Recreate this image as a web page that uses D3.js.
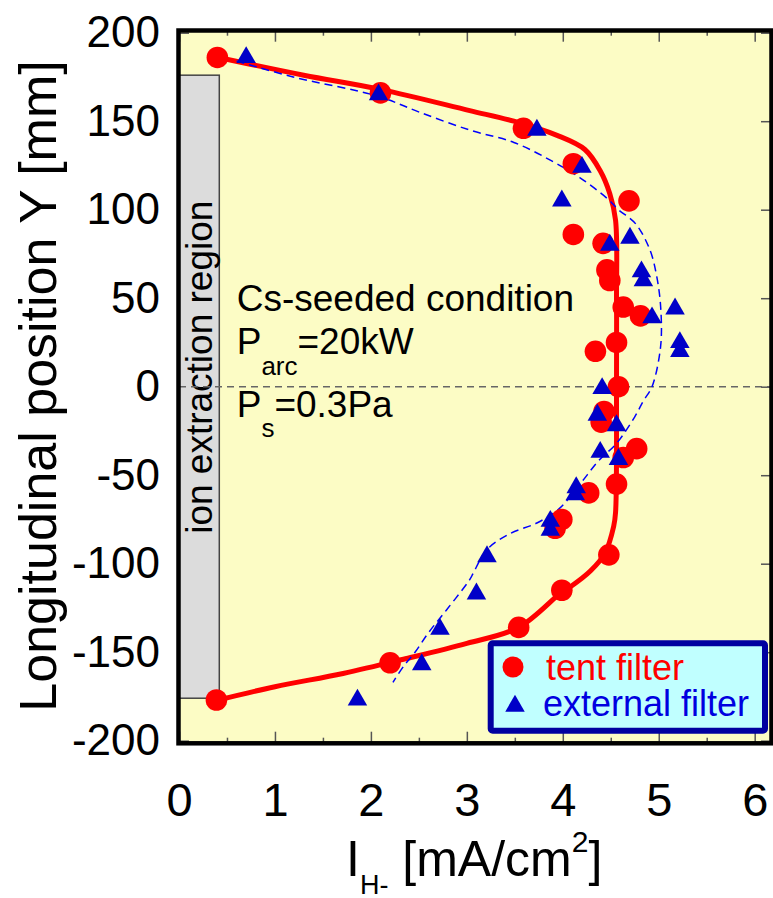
<!DOCTYPE html>
<html>
<head>
<meta charset="utf-8">
<script src="https://cdn.jsdelivr.net/npm/d3@7"></script>
<style>
body { margin: 0; background: #fff; }
svg { display: block; font-family: "Liberation Sans", Arial, sans-serif; }
</style>
</head>
<body>
<script>
// tent filter measurements (position Y [mm], current density [mA/cm2])
const tentY = [186, 166, 146, 126, 105, 86, 81, 66, 60, 45, 40, 25, 20, 0, -14, -20, -35, -40, -55, -60, -75, -80, -95, -115, -136, -156, -177];
const tentI = [0.40, 2.10, 3.59, 4.11, 4.69, 4.11, 4.42, 4.46, 4.49, 4.63, 4.81, 4.56, 4.34, 4.58, 4.43, 4.40, 4.77, 4.63, 4.56, 4.27, 3.99, 3.92, 4.48, 3.99, 3.54, 2.20, 0.39];

// external filter measurements
const extY = [186, 165, 145, 124, 105, 84, 80, 65, 60, 44, 39, 25, 20, -1, -16, -22, -37, -41, -57, -61, -76, -81, -96, -117, -137, -157, -177];
const extI = [0.70, 2.08, 3.73, 4.20, 3.99, 4.70, 4.49, 4.82, 4.84, 5.17, 4.93, 5.22, 5.22, 4.41, 4.36, 4.56, 4.39, 4.58, 4.14, 4.13, 3.87, 3.87, 3.21, 3.10, 2.72, 2.53, 1.86];

// fitted guide curves
const tentFitY = [186, 176, 168, 156, 150, 142, 134, 122, 109, 94, 49, 0, -71, -79, -94, -104, -113, -116, -136, -145, -154, -162, -169.5, -177];
const tentFitI = [0.41, 1.30, 2.10, 3.03, 3.49, 3.94, 4.23, 4.39, 4.49, 4.55, 4.56, 4.56, 4.55, 4.53, 4.44, 4.29, 4.08, 3.99, 3.54, 3.00, 2.34, 1.71, 1.00, 0.41];
const extFitY = [184, 175, 164, 155, 145, 138, 128, 118, 106, 100, 92, 77, 62, 45, 23, 0, -8, -17, -32, -42, -55, -69, -77, -83, -92, -105, -109, -126, -139, -150, -158, -167];
const extFitI = [0.60, 1.19, 2.08, 2.51, 3.03, 3.49, 3.87, 4.18, 4.47, 4.58, 4.76, 4.91, 4.98, 5.02, 5.02, 4.93, 4.84, 4.75, 4.56, 4.37, 4.18, 3.96, 3.73, 3.45, 3.21, 3.07, 3.03, 2.79, 2.60, 2.46, 2.34, 2.23];

const xMajor = [0, 1, 2, 3, 4, 5, 6];
const xMinor = [0.5, 1.5, 2.5, 3.5, 4.5, 5.5];
const yTicks = [-200, -150, -100, -50, 0, 50, 100, 150, 200];

const W = 773, H = 898;
const pLeft = 179, pRight = 771, pTop = 32.7, pBottom = 740.7;

const svg = d3.select("body").append("svg")
    .attr("width", W)
    .attr("height", H);

const x = d3.scaleLinear().domain([0, 6.17]).range([pLeft, pRight]);
const y = d3.scaleLinear().domain([-200, 200]).range([pBottom, pTop]);

// plot background
svg.append("rect")
    .attr("x", pLeft).attr("y", pTop - 2)
    .attr("width", pRight - pLeft).attr("height", pBottom - pTop + 4)
    .attr("fill", "#fcfcc5");

const fmt = d => String(d);

// ticks (inward) bottom/top
function styleAxis(g) {
    g.select(".domain").remove();
    g.selectAll(".tick line").attr("stroke", "#555").attr("stroke-width", 1.5);
    g.selectAll("text").attr("fill", "#000");
}
svg.append("g").attr("transform", `translate(0,${pBottom + 2})`)
    .call(d3.axisBottom(x).tickValues(xMinor).tickSize(-5).tickFormat(""))
    .call(styleAxis);
svg.append("g").attr("transform", `translate(0,${pBottom + 2})`)
    .call(d3.axisBottom(x).tickValues(xMajor).tickSize(-11).tickPadding(40).tickFormat(fmt))
    .call(styleAxis)
    .call(g => g.selectAll("text").attr("font-size", 47).attr("font-family", null));
svg.append("g").attr("transform", `translate(0,${pTop - 2})`)
    .call(d3.axisTop(x).tickValues(xMinor).tickSize(-5).tickFormat(""))
    .call(styleAxis);
svg.append("g").attr("transform", `translate(0,${pTop - 2})`)
    .call(d3.axisTop(x).tickValues(xMajor).tickSize(-11).tickFormat(""))
    .call(styleAxis);

svg.append("g").attr("transform", `translate(${pLeft},0)`)
    .call(d3.axisLeft(y).tickValues(yTicks).tickSize(-10).tickPadding(19).tickFormat(fmt))
    .call(styleAxis)
    .call(g => g.selectAll("text").attr("font-size", 44).attr("font-family", null));
svg.append("g").attr("transform", `translate(${pRight},0)`)
    .call(d3.axisRight(y).tickValues(yTicks).tickSize(-10).tickFormat(""))
    .call(styleAxis);

// ion extraction region
svg.append("rect")
    .attr("x", x(0)).attr("y", y(176))
    .attr("width", x(0.42) - x(0)).attr("height", y(-176) - y(176))
    .attr("fill", "#dcdcdc")
    .attr("stroke", "#444")
    .attr("stroke-width", 1.5);
svg.append("text")
    .attr("transform", `translate(212,${y(11)}) rotate(-90)`)
    .attr("text-anchor", "middle")
    .attr("font-size", 37)
    .text("ion extraction region");

// zero line
svg.append("line")
    .attr("x1", pLeft).attr("x2", pRight)
    .attr("y1", y(0)).attr("y2", y(0))
    .attr("stroke", "#666")
    .attr("stroke-width", 1.5)
    .attr("stroke-dasharray", "7,5");

const line = d3.line()
    .x(d => x(d[0]))
    .y(d => y(d[1]))
    .curve(d3.curveCatmullRom);

svg.append("path")
    .attr("d", line(tentFitI.map((v, i) => [v, tentFitY[i]])))
    .attr("fill", "none")
    .attr("stroke", "#ff0000")
    .attr("stroke-width", 5);

svg.append("path")
    .attr("d", line(extFitI.map((v, i) => [v, extFitY[i]])))
    .attr("fill", "none")
    .attr("stroke", "#0000ff")
    .attr("stroke-width", 1.5)
    .attr("stroke-dasharray", "8,5");

// markers
svg.append("g").selectAll("circle")
    .data(tentI.map((v, i) => [v, tentY[i]]))
    .join("circle")
    .attr("cx", d => x(d[0]))
    .attr("cy", d => y(d[1]))
    .attr("r", 10.8)
    .attr("fill", "#ff0000");

const tri = d3.symbol(d3.symbolTriangle, 165);
svg.append("g").selectAll("path")
    .data(extI.map((v, i) => [v, extY[i]]))
    .join("path")
    .attr("d", tri)
    .attr("transform", d => `translate(${x(d[0])},${y(d[1])})`)
    .attr("fill", "#0000c8");

// frame
svg.append("rect")
    .attr("x", 178.5).attr("y", 30.5)
    .attr("width", 593).attr("height", 712.8)
    .attr("fill", "none")
    .attr("stroke", "#000")
    .attr("stroke-width", 4.5);

// annotation
const note = svg.append("g").attr("font-size", 37);
note.append("text").attr("x", 236.7).attr("y", 311).text("Cs-seeded condition");
const t1 = note.append("text").attr("x", 236.7).attr("y", 354);
t1.append("tspan").text("P");
t1.append("tspan").attr("font-size", 26).attr("dy", 21).text("arc");
t1.append("tspan").attr("dy", -21).text("=20kW");
const t2 = note.append("text").attr("x", 236.7).attr("y", 416.7);
t2.append("tspan").text("P");
t2.append("tspan").attr("font-size", 26).attr("dy", 20).text("s");
t2.append("tspan").attr("dy", -20).text("=0.3Pa");

// legend
svg.append("rect")
    .attr("x", 490.7).attr("y", 643.3)
    .attr("width", 274.3).attr("height", 87.4)
    .attr("rx", 2)
    .attr("fill", "#c0ffff")
    .attr("stroke", "#0000a0")
    .attr("stroke-width", 6);
svg.append("circle").attr("cx", 513).attr("cy", 667).attr("r", 10.5).attr("fill", "#ff0000");
svg.append("path").attr("d", tri).attr("transform", "translate(515,706)").attr("fill", "#0000c8");
svg.append("text").attr("x", 546).attr("y", 680).attr("font-size", 36).attr("fill", "#ff0000").text("tent filter");
svg.append("text").attr("x", 543).attr("y", 716).attr("font-size", 36).attr("fill", "#0000e0").text("external filter");

// axis titles
const xt = svg.append("text").attr("x", 346).attr("y", 876).attr("font-size", 50);
xt.append("tspan").text("I");
xt.append("tspan").attr("font-size", 27).attr("dy", 18).text("H-");
xt.append("tspan").attr("dy", -18).text(" [mA/cm");
xt.append("tspan").attr("font-size", 30).attr("dy", -24).text("2");
xt.append("tspan").attr("dy", 24).text("]");

svg.append("text")
    .attr("transform", `translate(56,${(44 + 728) / 2}) rotate(-90)`)
    .attr("text-anchor", "middle")
    .attr("font-size", 52)
    .text("Longitudinal position Y [mm]");
</script>
</body>
</html>
